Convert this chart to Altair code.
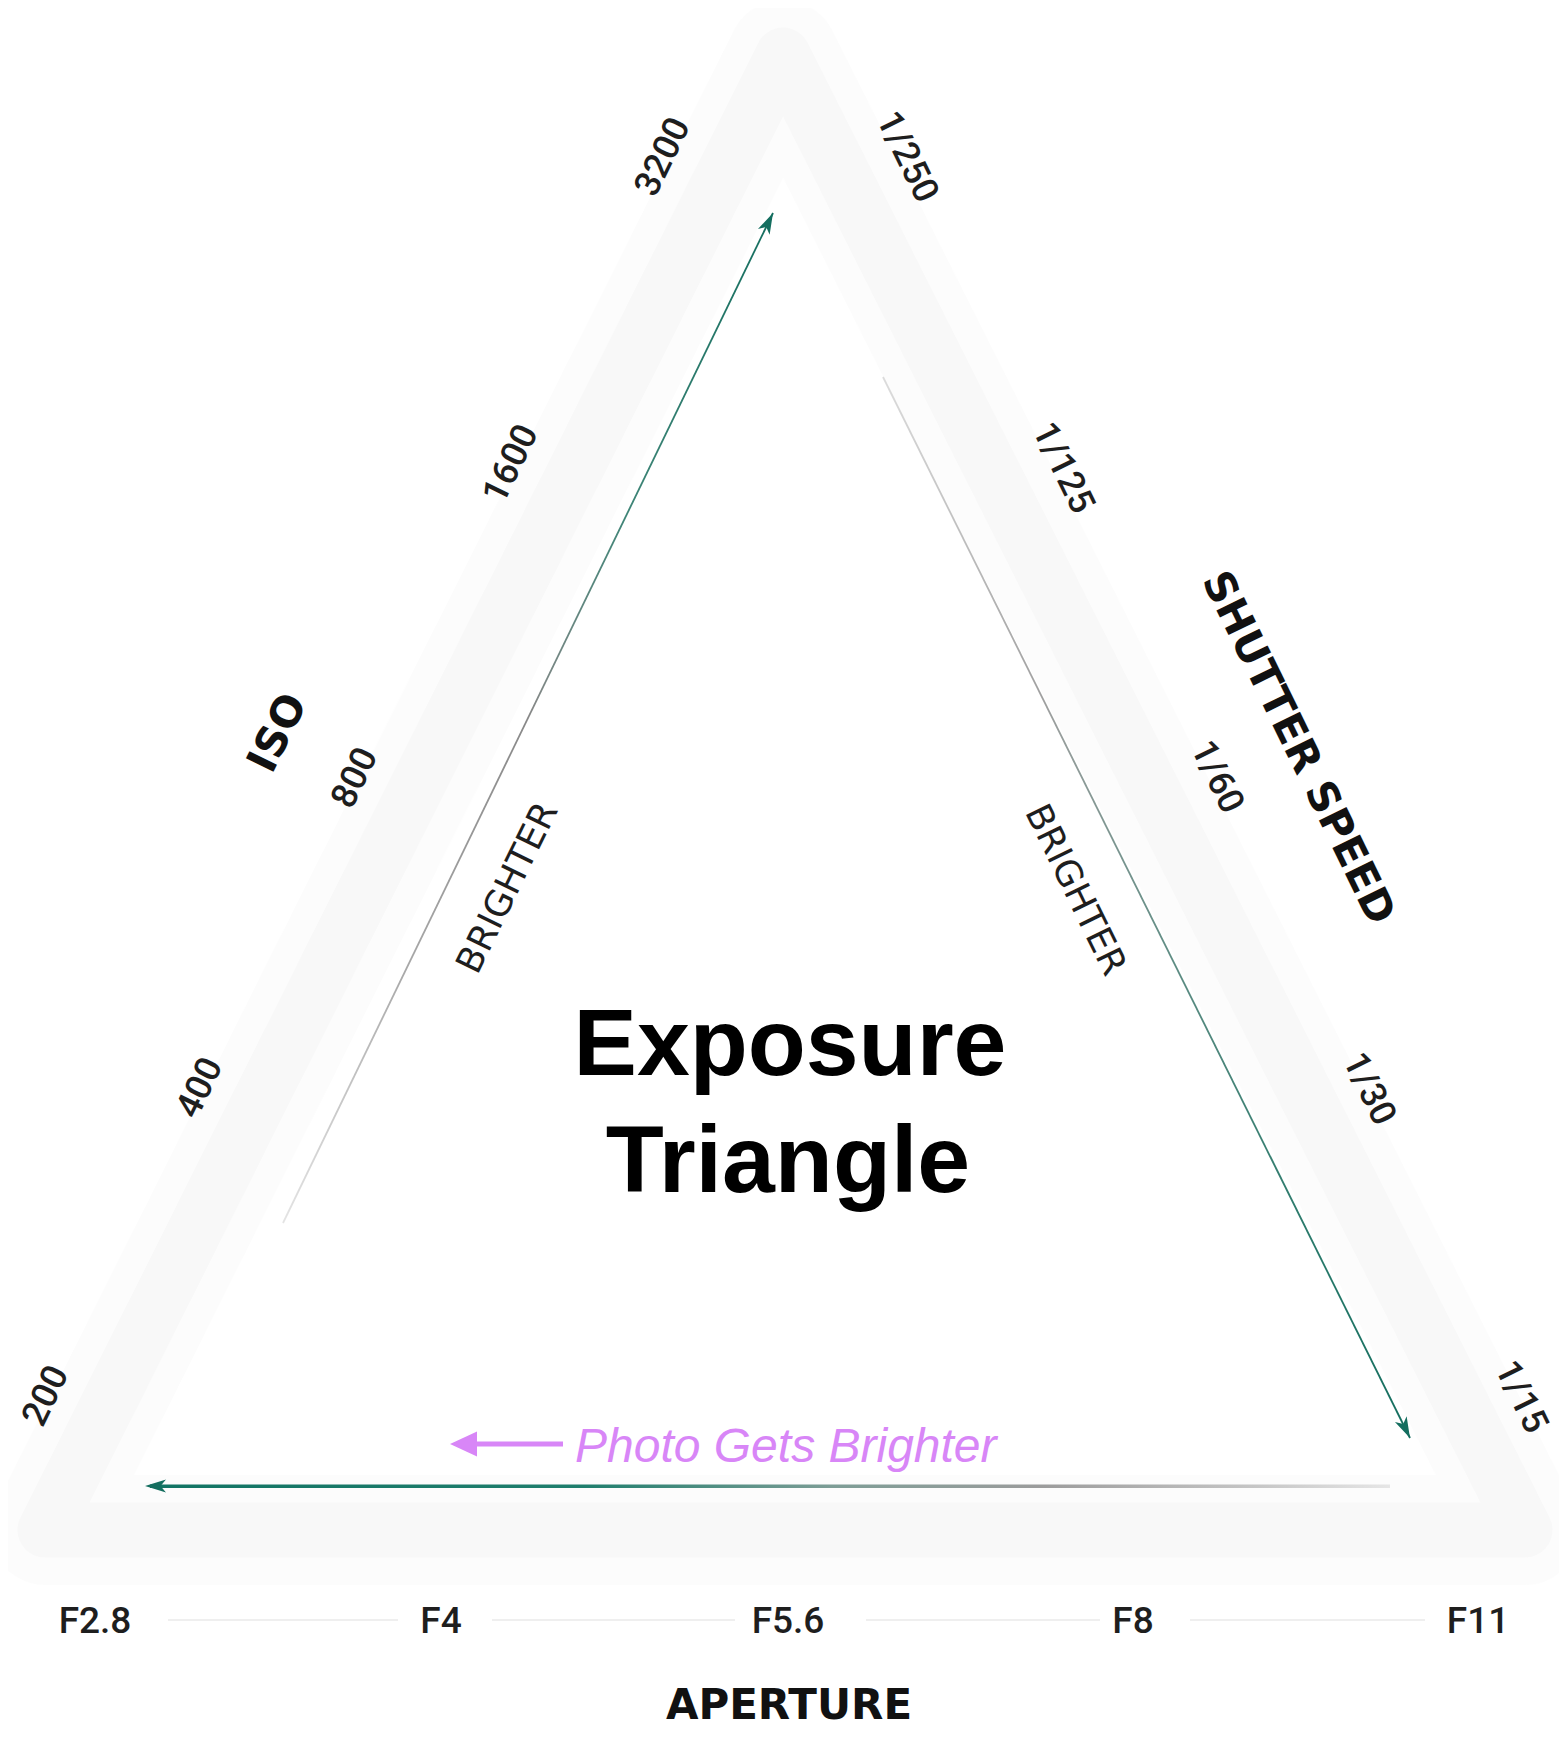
import altair as alt
import pandas as pd

# ---------------- data (image pixel coordinates) -------------
iso_labels = ["3200", "1600", "800", "400", "200"]
iso_x = [663, 511, 355, 200, 46]
iso_y = [157, 464, 778, 1088, 1396]

shutter_labels = ["1/250", "1/125", "1/60", "1/30", "1/15"]
shutter_x = [907, 1063, 1217, 1369, 1521]
shutter_y = [157, 468, 777, 1089, 1397]

aperture_labels = ["F2.8", "F4", "F5.6", "F8", "F11"]
aperture_x = [95, 441, 788, 1133, 1478]
aperture_y = [1622, 1622, 1622, 1622, 1622]

sep_x1 = [168, 492, 866, 1190]
sep_x2 = [398, 735, 1100, 1425]
sep_y = [1620, 1620, 1620, 1620]

iso_line_x = [283, 773]
iso_line_y = [1223, 213]
shutter_line_x = [883, 1410]
shutter_line_y = [377, 1438]
aperture_line_x = [150, 1390]
aperture_line_y = [1484.5, 1488]

head_x = [773, 1410, 145]
head_y = [213, 1438, 1486]
head_angle = [26, 154, 270]

halo_x = [783, 1525, 45, 783]
halo_y = [55, 1530, 1530, 55]

title_lines = ["Exposure", "Triangle"]
title_x = [790, 788]
title_y = [1075, 1192]

note_text = ["Photo Gets Brighter"]
note_x = [575]
note_y = [1462]
note_arrow_x = [563, 466]
note_arrow_y = [1444, 1444]
note_head_x = [450]
note_head_y = [1444]

axis_titles = ["ISO", "SHUTTER SPEED", "APERTURE"]
axis_title_x = [278, 1298, 789]
axis_title_y = [733, 748, 1706]
axis_title_angle = [296, 64, 0]

brighter_labels = ["BRIGHTER", "BRIGHTER"]
brighter_x = [508, 1075]
brighter_y = [888, 890]
brighter_angle = [296, 64]

TEAL = "#146e5f"
PURPLE = "#d886f7"
INK = "#1e1e1e"

# ---------------- scales ----------------
W, H = 1551, 1726
xs = alt.Scale(domain=[8, 8 + W], nice=False, zero=False)
ys = alt.Scale(domain=[8, 8 + H], nice=False, zero=False, reverse=True)


def X(f="x"):
    return alt.X(f"{f}:Q", scale=xs, axis=None)


def Y(f="y"):
    return alt.Y(f"{f}:Q", scale=ys, axis=None)


def grad(stops, x1, y1, x2, y2):
    return alt.Gradient(
        gradient="linear",
        stops=[alt.GradientStop(color=c, offset=o) for o, c in stops],
        x1=x1, y1=y1, x2=x2, y2=y2,
    )


layers = []

# faint halo triangle (two soft bands)
halo = pd.DataFrame({"x": halo_x, "y": halo_y, "i": range(len(halo_x))})
for sw, op in [(110, 0.08), (55, 0.1)]:
    layers.append(
        alt.Chart(halo).mark_line(color="#dcdcdc", strokeWidth=sw, opacity=op,
                                  strokeJoin="round", strokeCap="round")
        .encode(x=X(), y=Y(), order="i:O")
    )

# separators between aperture labels
seps = pd.DataFrame({"x": sep_x1, "x2": sep_x2, "y": sep_y})
layers.append(
    alt.Chart(seps).mark_rule(color="#efefef", strokeWidth=2)
    .encode(x=X(), x2="x2:Q", y=Y())
)

# ISO line (grey at bottom -> teal at top)
iso_line = pd.DataFrame({"x": iso_line_x, "y": iso_line_y, "i": [0, 1]})
layers.append(
    alt.Chart(iso_line).mark_line(
        strokeWidth=1.8,
        stroke=grad([(0, "#e4e4e4"), (0.25, "#a8a8a8"), (0.5, "#888888"),
                     (0.7, "#3f8577"), (1, TEAL)], 0, 1, 1, 0),
    ).encode(x=X(), y=Y(), order="i:O")
)

# Shutter line (grey at top -> teal at bottom)
sh_line = pd.DataFrame({"x": shutter_line_x, "y": shutter_line_y, "i": [0, 1]})
layers.append(
    alt.Chart(sh_line).mark_line(
        strokeWidth=1.8,
        stroke=grad([(0, "#dcdcdc"), (0.3, "#a0a0a0"), (0.55, "#5e8c83"),
                     (0.8, "#2a7a6b"), (1, TEAL)], 0, 0, 1, 1),
    ).encode(x=X(), y=Y(), order="i:O")
)

# Aperture line (teal at left -> grey at right)
ap_line = pd.DataFrame({"x": [aperture_line_x[0]], "x2": [aperture_line_x[1]],
                        "y": [aperture_line_y[0]], "y2": [aperture_line_y[1]]})
layers.append(
    alt.Chart(ap_line).mark_rect(
        fill=grad([(0, "#127464"), (0.35, "#1f7e6d"), (0.55, "#7d9d96"),
                   (0.72, "#9c9c9c"), (0.9, "#c8c8c8"), (1, "#e6e6e6")], 0, 0, 1, 0),
    ).encode(x=X(), x2="x2:Q", y=Y(), y2="y2:Q")
)

# teal arrowheads
heads = pd.DataFrame({"x": head_x, "y": head_y, "a": head_angle})
layers.append(
    alt.Chart(heads).mark_point(
        shape="M0,0L0.65,2.1L0,1.55L-0.65,2.1Z", size=400, filled=True,
        color=TEAL, opacity=1, strokeWidth=0,
    ).encode(x=X(), y=Y(), angle=alt.Angle("a:Q", scale=None))
)

# tick labels
iso = pd.DataFrame({"t": iso_labels, "x": iso_x, "y": iso_y})
layers.append(
    alt.Chart(iso).mark_text(font="Roboto", fontSize=36, fontWeight=500, color=INK,
                             angle=296, align="center", baseline="middle")
    .encode(x=X(), y=Y(), text="t:N")
)
sh = pd.DataFrame({"t": shutter_labels, "x": shutter_x, "y": shutter_y})
layers.append(
    alt.Chart(sh).mark_text(font="Roboto", fontSize=36, fontWeight=500, color=INK,
                            angle=64, align="center", baseline="middle")
    .encode(x=X(), y=Y(), text="t:N")
)
ap = pd.DataFrame({"t": aperture_labels, "x": aperture_x, "y": aperture_y})
layers.append(
    alt.Chart(ap).mark_text(font="Roboto", fontSize=37, fontWeight=500, color=INK,
                            align="center", baseline="middle")
    .encode(x=X(), y=Y(), text="t:N")
)

# axis titles
at = pd.DataFrame({"t": axis_titles, "x": axis_title_x, "y": axis_title_y,
                   "a": axis_title_angle})
layers.append(
    alt.Chart(at).mark_text(font="DejaVu Sans", fontSize=42, fontWeight="bold", color="#111111",
                            align="center", baseline="middle")
    .encode(x=X(), y=Y(), text="t:N", angle=alt.Angle("a:Q", scale=None))
)

# BRIGHTER labels
br = pd.DataFrame({"t": brighter_labels, "x": brighter_x, "y": brighter_y,
                   "a": brighter_angle})
layers.append(
    alt.Chart(br).mark_text(font="DejaVu Sans", fontSize=36, fontWeight="normal", color=INK,
                            align="center", baseline="middle")
    .encode(x=X(), y=Y(), text="t:N", angle=alt.Angle("a:Q", scale=None))
)

# title
tt = pd.DataFrame({"t": title_lines, "x": title_x, "y": title_y})
layers.append(
    alt.Chart(tt).mark_text(font="Liberation Sans", fontSize=95, fontWeight="bold",
                            color="#000000", align="center", baseline="alphabetic")
    .encode(x=X(), y=Y(), text="t:N")
)

# note "Photo Gets Brighter" with purple arrow
nt = pd.DataFrame({"t": note_text, "x": note_x, "y": note_y})
layers.append(
    alt.Chart(nt).mark_text(font="Liberation Sans", fontSize=48, fontStyle="italic",
                            color=PURPLE, align="left", baseline="alphabetic")
    .encode(x=X(), y=Y(), text="t:N")
)
na = pd.DataFrame({"x": [note_arrow_x[0]], "x2": [note_arrow_x[1]], "y": [note_arrow_y[0]]})
layers.append(
    alt.Chart(na).mark_rule(color=PURPLE, strokeWidth=5)
    .encode(x=X(), x2="x2:Q", y=Y())
)
nh = pd.DataFrame({"x": note_head_x, "y": note_head_y, "a": [270]})
layers.append(
    alt.Chart(nh).mark_point(shape="M0,0L1.25,2.7L-1.25,2.7Z", size=400, filled=True,
                             color=PURPLE, opacity=1, strokeWidth=0)
    .encode(x=X(), y=Y(), angle=alt.Angle("a:Q", scale=None))
)

chart = (
    alt.layer(*layers)
    .properties(width=W, height=H, padding=0, background="white",
                autosize=alt.AutoSizeParams(type="none"))
    .configure_view(stroke=None)
)

chart.save("out.html", embed_options={"renderer": "svg", "actions": False})
